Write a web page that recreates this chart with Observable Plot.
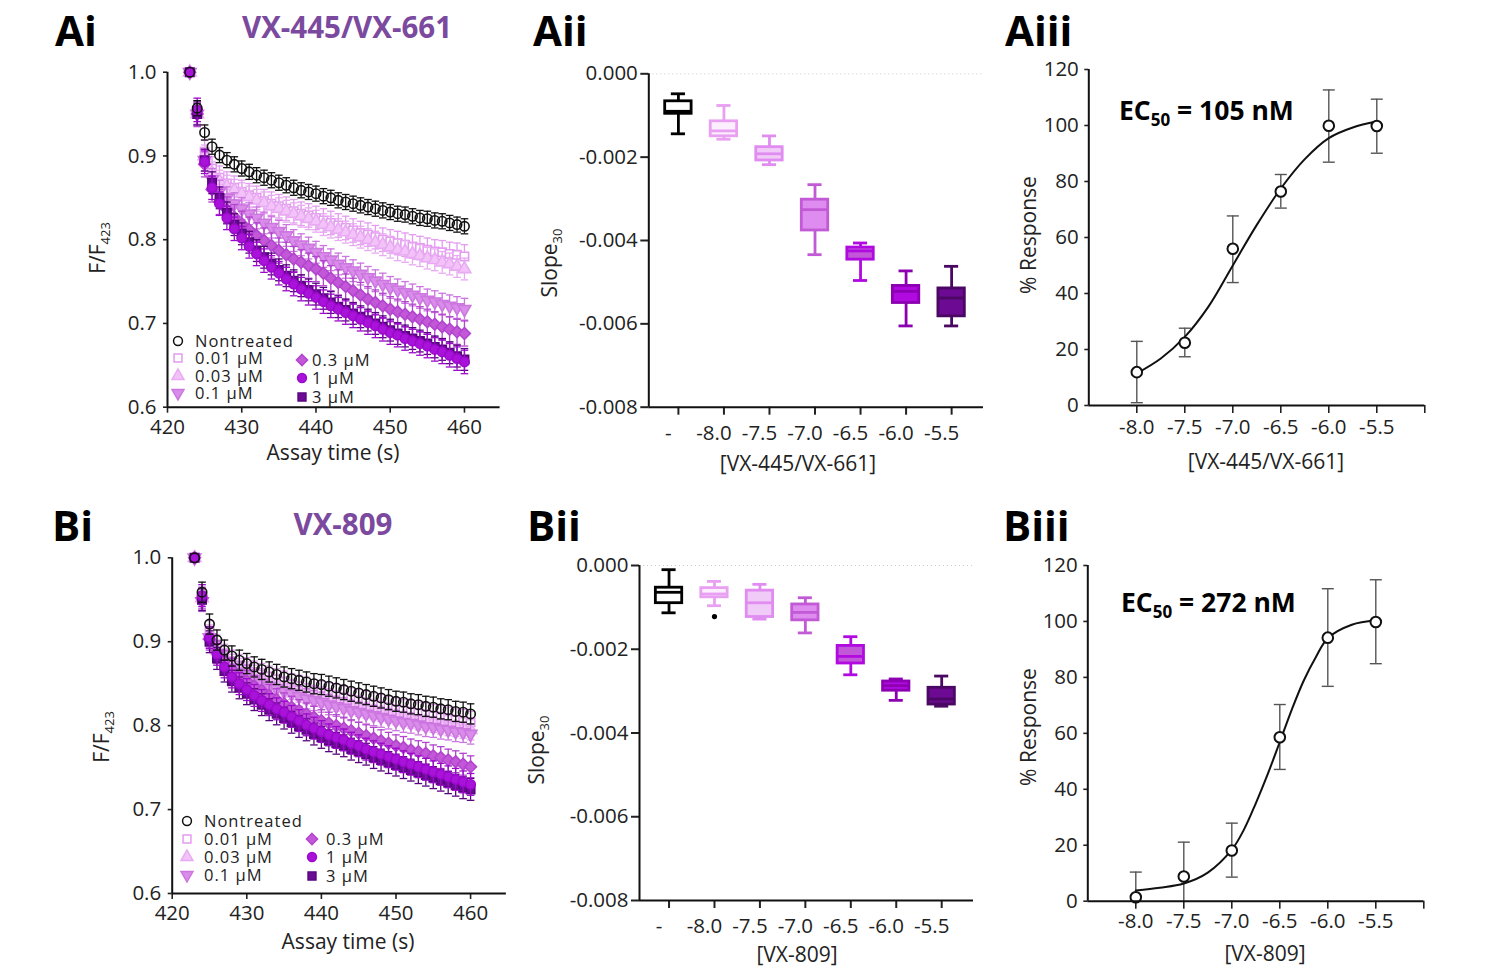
<!DOCTYPE html>
<html><head><meta charset="utf-8">
<script src="https://cdn.jsdelivr.net/npm/d3@7"></script>
<script src="https://cdn.jsdelivr.net/npm/@observablehq/plot@0.6"></script>
<style>
body{margin:0;background:#fff;}
#fig{position:relative;width:1488px;height:980px;font-family:"Open Sans",sans-serif;}
#fig svg{position:absolute;}
</style></head><body><div id="fig"></div>
<script>
// ---------- DATA ----------
const times = [423,424,425,426,427,428,429,430,431,432,433,434,435,436,437,438,439,440,441,442,443,444,445,446,447,448,449,450,451,452,453,454,455,456,457,458,459,460];
const seriesLabels = ["Nontreated","0.01 µM","0.03 µM","0.1 µM","0.3 µM","1 µM","3 µM"];

// Panel Ai (VX-445/VX-661) F/F423
const ntA   = [1.000,0.957,0.928,0.911,0.901,0.895,0.890,0.885, 0.881,0.877,0.874,0.871,0.868,0.865,0.862,0.859,0.857,0.855, 0.852,0.850,0.847,0.845,0.843,0.841,0.839,0.837,0.835,0.833, 0.831,0.830,0.828,0.826,0.825,0.823,0.822,0.820,0.818,0.816];
const c001A = [1.000,0.952,0.905,0.885,0.874,0.867,0.862,0.857, 0.853,0.850,0.846,0.843,0.840,0.837,0.834,0.831,0.829,0.826, 0.823,0.820,0.817,0.814,0.811,0.808,0.806,0.803,0.800,0.798, 0.796,0.794,0.792,0.790,0.788,0.786,0.785,0.783,0.782,0.780];
const c003A = [1.000,0.950,0.900,0.880,0.870,0.864,0.859,0.855, 0.851,0.847,0.844,0.840,0.837,0.834,0.831,0.828,0.825,0.822, 0.818,0.815,0.812,0.809,0.806,0.803,0.800,0.797,0.794,0.791, 0.788,0.786,0.783,0.781,0.778,0.776,0.773,0.771,0.768,0.765];
const c01A  = [1.000,0.950,0.895,0.872,0.858,0.850,0.843,0.837, 0.831,0.826,0.820,0.815,0.810,0.805,0.799,0.794,0.790,0.785, 0.780,0.776,0.771,0.767,0.763,0.759,0.755,0.751,0.747,0.743, 0.740,0.737,0.734,0.731,0.728,0.726,0.723,0.721,0.719,0.717];
const c03A  = [1.000,0.950,0.890,0.860,0.845,0.836,0.827,0.819, 0.812,0.805,0.799,0.793,0.787,0.782,0.777,0.773,0.769,0.765, 0.760,0.754,0.749,0.744,0.739,0.734,0.729,0.725,0.721,0.717, 0.714,0.711,0.708,0.705,0.702,0.699,0.696,0.693,0.690,0.688];
const c1A   = [1.000,0.955,0.893,0.862,0.843,0.826,0.813,0.802, 0.792,0.783,0.775,0.767,0.760,0.753,0.747,0.741,0.736,0.731, 0.726,0.721,0.717,0.713,0.709,0.705,0.701,0.697,0.693,0.689, 0.686,0.682,0.679,0.676,0.673,0.669,0.666,0.662,0.658,0.654];
const c3A   = [1.000,0.950,0.895,0.868,0.850,0.832,0.818,0.807, 0.797,0.787,0.779,0.771,0.764,0.757,0.751,0.745,0.740,0.735, 0.730,0.725,0.720,0.716,0.712,0.708,0.704,0.700,0.696,0.692, 0.688,0.685,0.682,0.679,0.676,0.672,0.669,0.665,0.661,0.657];
const semA  = [0.009,0.014,0.013,0.013,0.015,0.014,0.013];

// Panel Bi (VX-809) F/F423
const ntB   = [1.000,0.959,0.921,0.902,0.890,0.883,0.878,0.874, 0.870,0.867,0.864,0.861,0.858,0.856,0.854,0.852,0.850,0.849, 0.847,0.845,0.843,0.841,0.839,0.837,0.835,0.833,0.831,0.829, 0.828,0.826,0.825,0.823,0.822,0.820,0.819,0.817,0.816,0.814];
const c001B = [1.000,0.950,0.912,0.895,0.884,0.877,0.872,0.868, 0.864,0.861,0.858,0.855,0.852,0.849,0.847,0.845,0.842,0.840, 0.838,0.836,0.834,0.832,0.830,0.828,0.826,0.824,0.822,0.820, 0.818,0.817,0.815,0.814,0.812,0.811,0.809,0.807,0.806,0.804];
const c003B = [1.000,0.952,0.908,0.890,0.880,0.873,0.868,0.864, 0.860,0.856,0.852,0.849,0.846,0.843,0.840,0.838,0.836,0.834, 0.832,0.829,0.827,0.825,0.823,0.821,0.819,0.817,0.815,0.813, 0.811,0.809,0.807,0.806,0.804,0.802,0.800,0.799,0.797,0.795];
const c01B  = [1.000,0.948,0.905,0.886,0.876,0.869,0.864,0.860, 0.855,0.851,0.847,0.844,0.841,0.838,0.835,0.832,0.830,0.828, 0.825,0.823,0.821,0.818,0.816,0.814,0.812,0.810,0.808,0.806, 0.804,0.803,0.801,0.799,0.798,0.796,0.795,0.793,0.792,0.790];
const c03B  = [1.000,0.952,0.903,0.888,0.877,0.867,0.860,0.853, 0.847,0.842,0.836,0.831,0.826,0.822,0.818,0.814,0.810,0.806, 0.803,0.800,0.797,0.794,0.791,0.788,0.785,0.782,0.779,0.776, 0.774,0.771,0.769,0.767,0.764,0.762,0.759,0.757,0.754,0.751];
const c1B   = [1.000,0.955,0.905,0.885,0.870,0.858,0.850,0.843, 0.836,0.830,0.825,0.820,0.816,0.811,0.806,0.801,0.797,0.793, 0.789,0.786,0.783,0.779,0.776,0.772,0.769,0.766,0.763,0.760, 0.757,0.754,0.751,0.748,0.745,0.742,0.739,0.736,0.733,0.730];
const c3B   = [1.000,0.950,0.900,0.880,0.865,0.853,0.845,0.838, 0.831,0.825,0.819,0.814,0.809,0.804,0.799,0.795,0.790,0.786, 0.782,0.779,0.776,0.772,0.769,0.766,0.762,0.759,0.756,0.753, 0.750,0.747,0.744,0.741,0.738,0.735,0.732,0.729,0.726,0.724];
const semB  = [0.012,0.013,0.012,0.012,0.013,0.013,0.013];

// Panels Aii / Bii : Slope30 box plots
const doseCats = ["-","-8.0","-7.5","-7.0","-6.5","-6.0","-5.5"];
const boxA_hi  = [-0.00048,-0.00076,-0.00149,-0.00266,-0.00406,-0.00473,-0.00462];
const boxA_q3  = [-0.00066,-0.00114,-0.00176,-0.00302,-0.00417,-0.00509,-0.00515];
const boxA_med = [-0.00090,-0.00137,-0.00192,-0.00326,-0.00425,-0.00522,-0.00538];
const boxA_q1  = [-0.00096,-0.00150,-0.00208,-0.00376,-0.00446,-0.00550,-0.00582];
const boxA_lo  = [-0.00144,-0.00157,-0.00218,-0.00434,-0.00496,-0.00605,-0.00605];
const boxB_hi  = [-0.00010,-0.00038,-0.00045,-0.00077,-0.00170,-0.00271,-0.00264];
const boxB_q3  = [-0.00053,-0.00054,-0.00060,-0.00093,-0.00192,-0.00277,-0.00292];
const boxB_med = [-0.00064,-0.00068,-0.00089,-0.00112,-0.00217,-0.00287,-0.00319];
const boxB_q1  = [-0.00090,-0.00076,-0.00123,-0.00131,-0.00234,-0.00299,-0.00332];
const boxB_lo  = [-0.00113,-0.00096,-0.00128,-0.00161,-0.00261,-0.00322,-0.00336];
const outlierB_cat = [1];
const outlierB_val = [-0.00122];

// Panels Aiii / Biii : % response
const logDose = [-8.0,-7.5,-7.0,-6.5,-6.0,-5.5];
const respA   = [11.9,22.4,56.0,76.4,99.9,99.8];
const respA_lo= [1.0,17.4,43.9,70.5,86.9,90.1];
const respA_hi= [22.9,27.6,67.7,82.5,112.7,109.4];
const fitA_x  = [-8.0,-7.75,-7.5,-7.25,-7.0,-6.75,-6.5,-6.25,-6.0,-5.75,-5.5];
const fitA_y  = [11.5,16.8,24.5,35.5,50.0,64.5,77.5,88.0,95.5,99.3,101.4];
const respB   = [1.4,8.8,18.1,58.6,94.2,99.8];
const respB_lo= [0,0,8.6,47.1,76.8,84.9];
const respB_hi= [10.4,21.1,27.9,70.3,111.7,114.9];
const fitB_x  = [-8.0,-7.75,-7.5,-7.25,-7.0,-6.875,-6.75,-6.625,-6.5,-6.375,-6.25,-6.125,-6.0,-5.75,-5.5];
const fitB_y  = [3.8,4.8,6.3,10.2,18.4,25.5,35.0,45.5,56.9,68.5,78.9,87.2,94.0,98.8,100.4];

// ---------- STYLES ----------
const FONT = '"Open Sans", sans-serif';
const triDown = {draw(ctx, size){const s3=Math.sqrt(3);const y=-Math.sqrt(size/(s3*3));ctx.moveTo(0,-2*y);ctx.lineTo(-s3*y,y);ctx.lineTo(s3*y,y);ctx.closePath();}};
const diamondSym = {draw(ctx, size){const r=Math.sqrt(size/2);ctx.moveTo(0,-r);ctx.lineTo(r,0);ctx.lineTo(0,r);ctx.lineTo(-r,0);ctx.closePath();}};
const capSym = {draw(ctx, size){const w=Math.sqrt(size/Math.PI);ctx.moveTo(-w,0);ctx.lineTo(w,0);}};
const seriesStyle = [
  {sym:d3.symbolCircle, fill:"none", stroke:"#111111"},
  {sym:d3.symbolSquare, fill:"#ffffff", stroke:"#e49cf0"},
  {sym:d3.symbolTriangle, fill:"#f2c2f8", stroke:"#e8aaf2"},
  {sym:triDown, fill:"#da8cea", stroke:"#cc76e0"},
  {sym:diamondSym, fill:"#c258d8", stroke:"#b244ce"},
  {sym:d3.symbolCircle, fill:"#a912d9", stroke:"#9c08cc"},
  {sym:d3.symbolSquare, fill:"#6c0c96", stroke:"#58047e"}
];
const drawOrder = [1,2,3,4,6,5,0];
const boxStyle = [
  {fill:"#ffffff", stroke:"#000000"},
  {fill:"#fbeffd", stroke:"#e9a0f2"},
  {fill:"#f1cbf8", stroke:"#e08cf0"},
  {fill:"#de8cef", stroke:"#c25ad6"},
  {fill:"#c258d8", stroke:"#b00ae0"},
  {fill:"#b00ae0", stroke:"#8c00b2"},
  {fill:"#6c0a94", stroke:"#4a0862"}
];

const fig = document.getElementById("fig");
function place(svg, L, T){ svg.style.left = L+"px"; svg.style.top = T+"px"; fig.appendChild(svg); return svg; }
function thickenAxes(svg, w){ svg.querySelectorAll('g[aria-label*="axis"] line, g[aria-label*="axis"] path').forEach(e=>{e.setAttribute("stroke-width", w); e.setAttribute("stroke","#222");}); }
function shiftXLabels(svg, dx){ svg.querySelectorAll('g[aria-label^="x-axis"] text').forEach(t=>t.setAttribute("dx", dx)); }
const TICKFONT = "20.5px";

// ---------- Ai / Bi : time courses ----------
function timePanel(vals, sem, L, T, x0, x1, y0, y1, xpad){
  const marks = [];
  for (const k of drawOrder){
    const rows = times.map((t,i)=>({t, v: vals[k][i], e: i===0 ? 0 : sem[k]}));
    const st = seriesStyle[k];
    const er = rows.filter(d=>d.e>0);
    marks.push(Plot.ruleX(er, {x:"t", y1:d=>d.v-d.e, y2:d=>d.v+d.e, stroke:st.stroke, strokeWidth:1.3}));
    marks.push(Plot.dot(er, {x:"t", y:d=>d.v+d.e, symbol:capSym, r:3.8, stroke:st.stroke, fill:"none", strokeWidth:1.3}));
    marks.push(Plot.dot(er, {x:"t", y:d=>d.v-d.e, symbol:capSym, r:3.8, stroke:st.stroke, fill:"none", strokeWidth:1.3}));
    marks.push(Plot.dot(rows, {x:"t", y:"v", symbol:st.sym, r:4.7, fill:st.fill, stroke:st.stroke, strokeWidth:1.6}));
  }
  marks.push(Plot.ruleX([420], {stroke:"#111", strokeWidth:2}));
  marks.push(Plot.ruleY([0.6], {stroke:"#111", strokeWidth:2}));
  const svg = Plot.plot({
    width: x1 - L + 20, height: y1 - T + 50,
    marginLeft: x0 - L, marginRight: 20, marginTop: y0 - T, marginBottom: 50,
    style: {background:"transparent", fontFamily: FONT, fontSize:TICKFONT, color:"#222", overflow:"visible"},
    x: {domain:[420,464.8], ticks:[420,430,440,450,460], tickSize:6, tickPadding:xpad, label:null},
    y: {domain:[0.6,1.0], ticks:[0.6,0.7,0.8,0.9,1.0], tickFormat:d=>d.toFixed(1), tickSize:4, tickPadding:7, label:null},
    marks
  });
  place(svg, L, T); thickenAxes(svg, 1.6);
}
timePanel([ntA,c001A,c003A,c01A,c03A,c1A,c3A], semA, 60, 40, 167, 499.6, 71.7, 406.7, 6);
timePanel([ntB,c001B,c003B,c01B,c03B,c1B,c3B], semB, 60, 520, 171.7, 505.9, 557.3, 893, 6);

// ---------- Aii / Bii : box plots ----------
function boxPanel(hi,q3,med,q1,lo,outCat,outVal, L, T, x0, x1, y0, y1, xpad){
  const rows = doseCats.map((c,i)=>({i, hi:hi[i], q3:q3[i], med:med[i], q1:q1[i], lo:lo[i], fill:boxStyle[i].fill, stroke:boxStyle[i].stroke}));
  const outs = outCat.map((c,j)=>({i:c, v:outVal[j]}));
  const svg = Plot.plot({
    width: x1 - L + 20, height: y1 - T + 50,
    marginLeft: x0 - L, marginRight: 20, marginTop: y0 - T, marginBottom: 50,
    style: {background:"transparent", fontFamily: FONT, fontSize:TICKFONT, color:"#222", overflow:"visible"},
    color: {type:"identity"},
    x: {domain:[-0.65,6.7], ticks:[0,1,2,3,4,5,6], tickFormat:i=>doseCats[i], tickSize:8, tickPadding:xpad, label:null},
    y: {domain:[-0.008,0], ticks:[0,-0.002,-0.004,-0.006,-0.008], tickFormat:d=>Math.abs(d)<1e-9?"0.000":d.toFixed(3), tickSize:8, tickPadding:3, label:null},
    marks: [
      Plot.ruleY([0], {stroke:"#cccccc", strokeDasharray:"1,3"}),
      Plot.ruleX(rows, {x:"i", y1:"lo", y2:"hi", stroke:"stroke", strokeWidth:2.8}),
      Plot.rect(rows, {x1:d=>d.i-0.29, x2:d=>d.i+0.29, y1:"q1", y2:"q3", fill:"fill", stroke:"stroke", strokeWidth:2.8}),
      Plot.ruleY(rows, {x1:d=>d.i-0.29, x2:d=>d.i+0.29, y:"med", stroke:"stroke", strokeWidth:2.8}),
      Plot.ruleY(rows, {x1:d=>d.i-0.155, x2:d=>d.i+0.155, y:"hi", stroke:"stroke", strokeWidth:2.8}),
      Plot.ruleY(rows, {x1:d=>d.i-0.155, x2:d=>d.i+0.155, y:"lo", stroke:"stroke", strokeWidth:2.8}),
      Plot.dot(outs, {x:"i", y:"v", r:2.6, fill:"#000"}),
      Plot.ruleX([-0.65], {stroke:"#111", strokeWidth:2}),
      Plot.ruleY([-0.008], {stroke:"#111", strokeWidth:2})
    ]
  });
  place(svg, L, T); thickenAxes(svg, 2); shiftXLabels(svg, -10);
}
boxPanel(boxA_hi,boxA_q3,boxA_med,boxA_q1,boxA_lo,[],[], 560, 50, 648.3, 983, 73.3, 406.7, 10);
boxPanel(boxB_hi,boxB_q3,boxB_med,boxB_q1,boxB_lo,outlierB_cat,outlierB_val, 555, 540, 639, 973, 565, 900, 10);

// ---------- Aiii / Biii : dose response ----------
function drPanel(resp, lo, hi, fx, fy, L, T, x0, x1, y0, y1, xpad){
  const pts = logDose.map((x,i)=>({x, y:resp[i], lo:lo[i], hi:hi[i]}));
  const fit = fx.map((x,i)=>({x, y:fy[i]}));
  const svg = Plot.plot({
    width: x1 - L + 20, height: y1 - T + 50,
    marginLeft: x0 - L, marginRight: 20, marginTop: y0 - T, marginBottom: 50,
    style: {background:"transparent", fontFamily: FONT, fontSize:TICKFONT, color:"#222", overflow:"visible"},
    x: {domain:[-8.5,-5.0], ticks:[-8,-7.5,-7,-6.5,-6,-5.5,-5], tickFormat:d=>d===-5?"":d.toFixed(1), tickSize:8, tickPadding:xpad, label:null},
    y: {domain:[0,120], ticks:[0,20,40,60,80,100,120], tickSize:4, tickPadding:6, label:null},
    marks: [
      Plot.ruleX(pts, {x:"x", y1:"lo", y2:"hi", stroke:"#555", strokeWidth:1.4}),
      Plot.dot(pts, {x:"x", y:"hi", symbol:capSym, r:6, stroke:"#555", fill:"none", strokeWidth:1.4}),
      Plot.dot(pts.filter(d=>d.lo>0), {x:"x", y:"lo", symbol:capSym, r:6, stroke:"#555", fill:"none", strokeWidth:1.4}),
      Plot.line(fit, {x:"x", y:"y", curve:"catmull-rom", stroke:"#111", strokeWidth:2}),
      Plot.dot(pts, {x:"x", y:"y", r:5.3, fill:"#fff", stroke:"#111", strokeWidth:2}),
      Plot.ruleX([-8.5], {stroke:"#111", strokeWidth:2}),
      Plot.ruleY([0], {stroke:"#111", strokeWidth:2})
    ]
  });
  place(svg, L, T); thickenAxes(svg, 1.6);
}
drPanel(respA, respA_lo, respA_hi, fitA_x, fitA_y, 1000, 45, 1088.3, 1424.3, 69, 405, 6);
drPanel(respB, respB_lo, respB_hi, fitB_x, fitB_y, 1000, 540, 1087.3, 1423.3, 565, 900.7, 4);

// ---------- Overlay text ----------
const ov = d3.select(fig).append("svg").attr("width",1488).attr("height",980).style("left","0px").style("top","0px")
  .attr("font-family", FONT).attr("fill","#222");
function label(x,y,str,o={}){
  const t = ov.append("text").attr("x",x).attr("y",y).attr("text-anchor",o.anchor||"start")
    .attr("font-size",o.size||21).attr("font-weight",o.weight||400).attr("fill",o.fill||"#222").text(str);
  if (o.ls) t.attr("letter-spacing", o.ls);
  return t;
}
// panel letters
[["Ai",55,46],["Aii",533,46],["Aiii",1005,46],["Bi",52,541],["Bii",527,541],["Biii",1003,541]].forEach(([s,x,y])=>label(x,y,s,{size:42,weight:700,fill:"#000"}));
label(347,38,"VX-445/VX-661",{anchor:"middle",size:29.5,weight:700,fill:"#7b4a9e"});
label(343,535,"VX-809",{anchor:"middle",size:29.5,weight:700,fill:"#7b4a9e"});
// x labels
label(333,460,"Assay time (s)",{anchor:"middle"});
label(348,949,"Assay time (s)",{anchor:"middle"});
label(798,471,"[VX-445/VX-661]",{anchor:"middle"});
label(797,962,"[VX-809]",{anchor:"middle"});
label(1266,469,"[VX-445/VX-661]",{anchor:"middle"});
label(1265,961,"[VX-809]",{anchor:"middle"});
// rotated y labels
function ylab(x,y,main,sub){
  const t = ov.append("text").attr("transform",`translate(${x},${y}) rotate(-90)`).attr("text-anchor","middle").attr("font-size",21);
  t.append("tspan").text(main);
  if (sub) t.append("tspan").attr("font-size",13).attr("dy",5).text(sub);
}
ylab(105,248,"F/F","423");
ylab(109,737,"F/F","423");
ylab(557,263,"Slope","30");
ylab(544,750,"Slope","30");
ylab(1036,235,"% Response");
ylab(1036,727,"% Response");
// EC50
function ec(x,y,val){
  const t = ov.append("text").attr("x",x).attr("y",y).attr("font-size",26.5).attr("font-weight",700).attr("fill","#000");
  t.append("tspan").text("EC");
  t.append("tspan").attr("font-size",17).attr("dy",6).text("50");
  t.append("tspan").attr("dy",-6).text(" = " + val);
}
ec(1119,120,"105 nM");
ec(1121,612,"272 nM");
// legends
function legend(items){
  items.forEach(([k,x,y,off])=>{
    const st = seriesStyle[k];
    ov.append("path").attr("transform",`translate(${x},${y})`).attr("d", d3.symbol(st.sym, 62)())
      .attr("fill", st.fill === "none" ? "#fff" : st.fill).attr("stroke", st.stroke).attr("stroke-width",1.5);
    label(x+off, y+6, seriesLabels[k], {size:16.5, ls:1});
  });
}
legend([[0,178,341,17],[1,178,358,17],[2,178,376,17],[3,178,393,17],[4,302,360,10],[5,302,378,10],[6,302,397,10]]);
legend([[0,187,821,17],[1,187,839,17],[2,187,857,17],[3,187,875,17],[4,312,839,14],[5,312,857,14],[6,312,876,14]]);
</script>
</body></html>
